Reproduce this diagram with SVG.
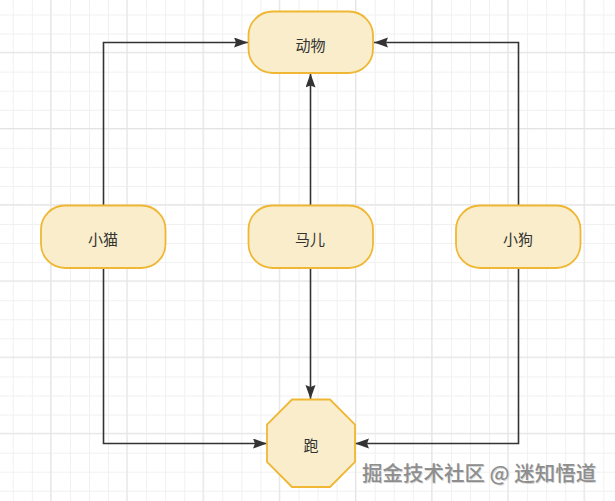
<svg xmlns="http://www.w3.org/2000/svg" width="615" height="501" viewBox="0 0 615 501">
  <defs>
    <pattern id="gridMinor" patternUnits="userSpaceOnUse" x="12.8" y="14.5" width="19.05" height="19.05">
      <path d="M0.5 0 V19.05 M0 0.5 H19.05" fill="none" stroke="#f0f0f0" stroke-width="1"/>
    </pattern>
    <pattern id="gridMajor" patternUnits="userSpaceOnUse" x="50.2" y="51.8" width="76.2" height="76.2">
      <path d="M0.5 0 V76.2 M0 0.5 H76.2" fill="none" stroke="#e4e4e4" stroke-width="1"/>
    </pattern>
    <marker id="arrow" markerUnits="userSpaceOnUse" markerWidth="15" markerHeight="11" refX="14" refY="5" orient="auto">
      <path d="M0,0 L14,5 L0,10 L2,5 Z" fill="#333333"/>
    </marker>
    <style>
      .node { fill: #f9edcb; stroke: #efb733; stroke-width: 1.8; }
      .label { font-family: "Noto Sans CJK SC", "Noto Sans", sans-serif; font-size: 15px; fill: #333333; text-anchor: middle; dominant-baseline: central; }
      .edge { fill: none; stroke: #333333; stroke-width: 1.6; marker-end: url(#arrow); }
      .wm { font-family: "Noto Sans CJK SC", "Noto Sans", sans-serif; font-size: 20.5px; font-weight: 500; }
    </style>
  </defs>

  <rect x="0" y="0" width="615" height="501" fill="#ffffff"/>
  <rect x="0" y="0" width="615" height="501" fill="url(#gridMinor)"/>
  <rect x="0" y="0" width="615" height="501" fill="url(#gridMajor)"/>

  <g id="connectors">
    <path class="edge" d="M103.5 205 V42.5 H248"/>
    <path class="edge" d="M518.5 205 V42.5 H374"/>
    <path class="edge" d="M310.5 205 V73.5"/>
    <path class="edge" d="M103.5 268 V443.5 H267"/>
    <path class="edge" d="M518.5 268 V443.5 H355"/>
    <path class="edge" d="M310.5 268 V399"/>
  </g>

  <g id="node-animal">
    <rect class="node" x="248.5" y="11.5" width="124.5" height="61.5" rx="24" ry="24"/>
    <text class="label" x="310.5" y="44">动物</text>
  </g>
  <g id="node-cat">
    <rect class="node" x="41" y="205.5" width="124.5" height="62.5" rx="24" ry="24"/>
    <text class="label" x="103" y="238">小猫</text>
  </g>
  <g id="node-horse">
    <rect class="node" x="248.5" y="205.5" width="124.5" height="62.5" rx="24" ry="24"/>
    <text class="label" x="310" y="238">马儿</text>
  </g>
  <g id="node-dog">
    <rect class="node" x="456" y="205.5" width="124.5" height="62.5" rx="24" ry="24"/>
    <text class="label" x="518" y="238">小狗</text>
  </g>
  <g id="node-run">
    <polygon class="node" points="292,399.5 330,399.5 355,424.5 355,462 330,487 292,487 267,462 267,424.5"/>
    <text class="label" x="311" y="444">跑</text>
  </g>

  <g id="watermark">
    <text class="wm" x="362" y="481" fill="#d6d6d6" transform="translate(0.8,0.8)">掘金技术社区 @ 迷知悟道</text>
    <text class="wm" x="362" y="481" fill="#8e8e8e">掘金技术社区 @ 迷知悟道</text>
  </g>
</svg>
